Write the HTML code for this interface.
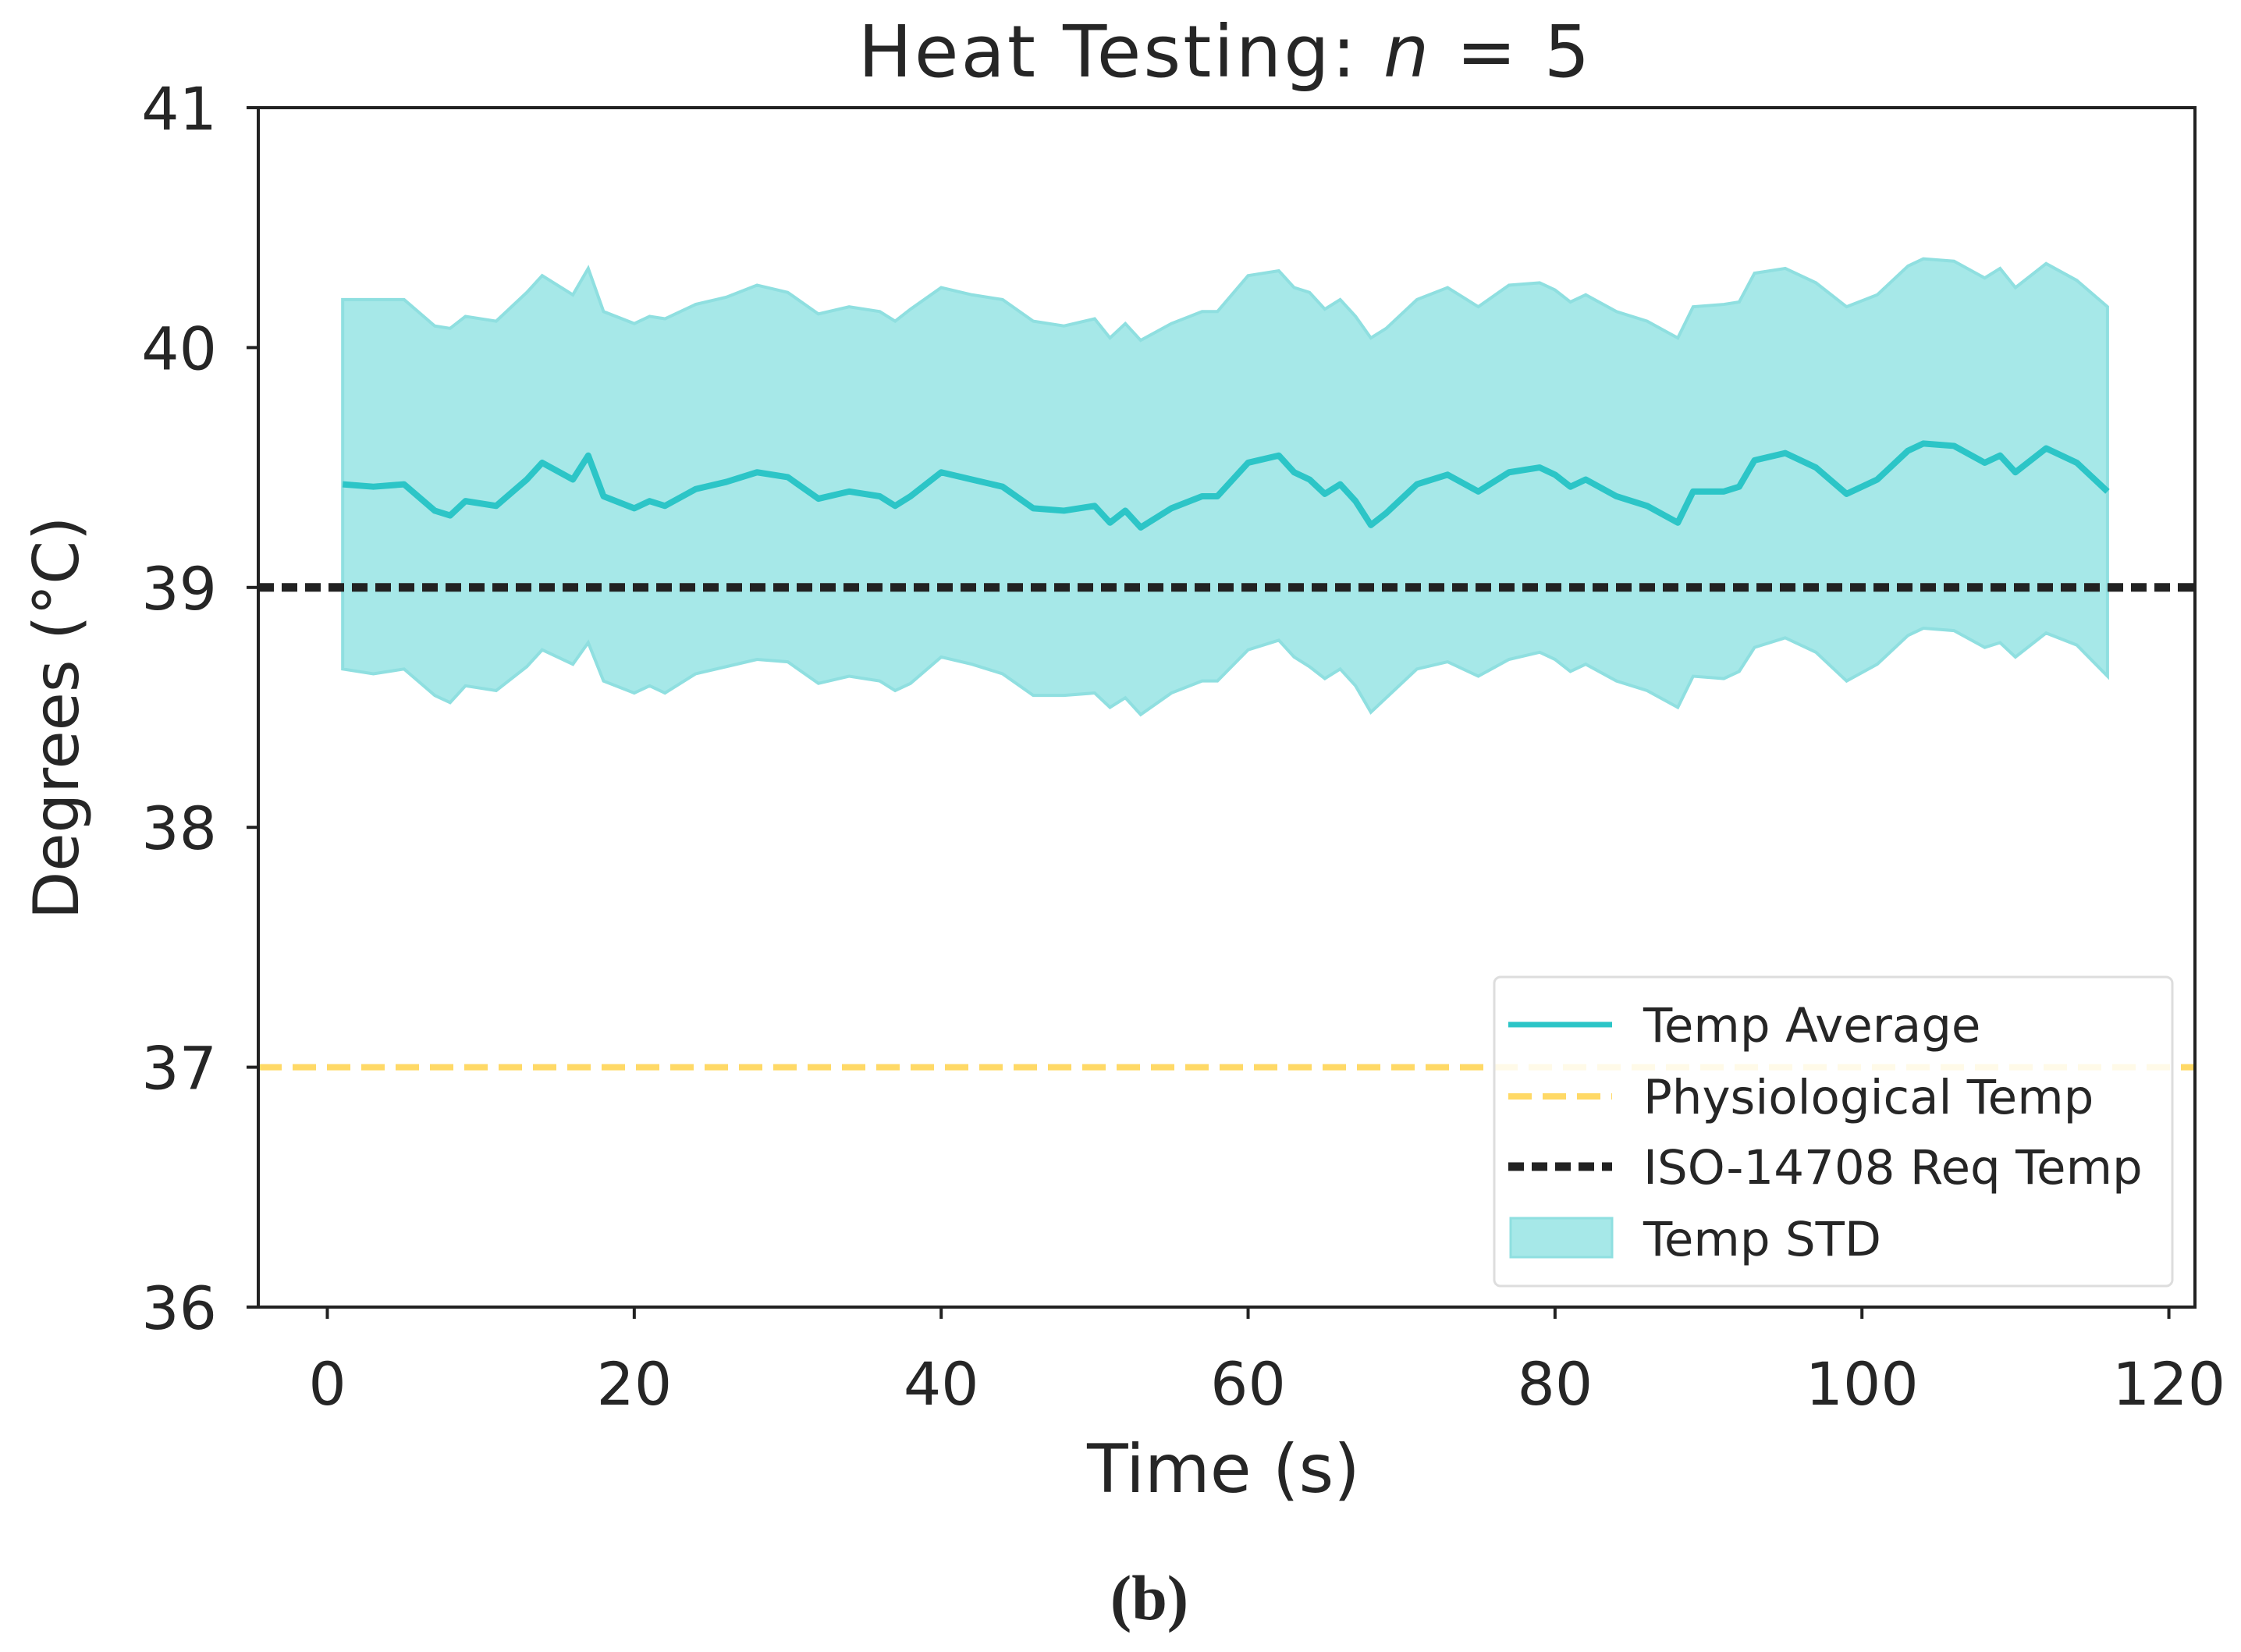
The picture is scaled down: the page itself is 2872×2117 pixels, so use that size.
<!DOCTYPE html>
<html><head><meta charset="utf-8"><style>
html,body{margin:0;padding:0;background:#fff;}
svg text{font-family:"DejaVu Sans","Liberation Sans",sans-serif;fill:#262626;}
</style></head><body>
<svg id="chart" width="2872" height="2112" viewBox="0 0 2872 2112" xmlns="http://www.w3.org/2000/svg">
<text x="1570" y="98" font-size="92" text-anchor="middle" letter-spacing="3">Heat Testing:  <tspan font-style="italic">n</tspan> = 5</text>
<g id="plot"></g>
<text x="1568" y="1912" font-size="86" text-anchor="middle">Time (s)</text>
<text transform="translate(100,920) rotate(-90)" font-size="80" text-anchor="middle">Degrees (°C)</text>
<text x="1473" y="2075" font-size="82" font-weight="bold" text-anchor="middle" style="font-family:'Liberation Serif',serif">(b)</text>
</svg>
<script>
const times=[1,3,5,7,8,9,11,13,14,16,17,18,20,21,22,24,26,28,30,32,34,36,37,38,40,42,44,46,48,50,51,52,53,55,57,58,60,62,63,64,65,66,67,68,69,71,73,75,77,79,80,81,82,84,86,88,89,91,92,93,95,97,99,101,103,104,106,108,109,110,112,114,116];
const meanTemp=[39.43,39.42,39.43,39.32,39.30,39.36,39.34,39.45,39.52,39.45,39.55,39.38,39.33,39.36,39.34,39.41,39.44,39.48,39.46,39.37,39.40,39.38,39.34,39.38,39.48,39.45,39.42,39.33,39.32,39.34,39.27,39.32,39.25,39.33,39.38,39.38,39.52,39.55,39.48,39.45,39.39,39.43,39.36,39.26,39.31,39.43,39.47,39.40,39.48,39.50,39.47,39.42,39.45,39.38,39.34,39.27,39.40,39.40,39.42,39.53,39.56,39.50,39.39,39.45,39.57,39.60,39.59,39.52,39.55,39.48,39.58,39.52,39.40];
const stdTemp=[0.77,0.78,0.77,0.77,0.78,0.77,0.77,0.78,0.78,0.77,0.78,0.77,0.77,0.77,0.78,0.77,0.77,0.78,0.77,0.77,0.77,0.77,0.77,0.78,0.77,0.77,0.78,0.78,0.77,0.78,0.77,0.78,0.78,0.77,0.77,0.77,0.78,0.77,0.77,0.78,0.77,0.77,0.77,0.78,0.77,0.77,0.78,0.77,0.78,0.77,0.77,0.77,0.77,0.77,0.77,0.77,0.77,0.78,0.77,0.78,0.77,0.77,0.78,0.77,0.77,0.77,0.77,0.77,0.78,0.77,0.77,0.76,0.77];
const xTicks=[0,20,40,60,80,100,120];
const yTicks=[36,37,38,39,40,41];
const physioTemp=37;
const isoTemp=39;
const legendLabels=["Temp Average","Physiological Temp","ISO-14708 Req Temp","Temp STD"];

const L=331,R=2813,T=138,B=1675;
const X0=-4.5,X1=121.7,Y0=36,Y1=41;
function sx(t){return L+(t-X0)/(X1-X0)*(R-L);}
function sy(v){return B-(v-Y0)/(Y1-Y0)*(B-T);}
const NS="http://www.w3.org/2000/svg";
const g=document.getElementById('plot');
function mk(tag,attrs,parent){const e=document.createElementNS(NS,tag);for(const k in attrs)e.setAttribute(k,attrs[k]);(parent||g).appendChild(e);return e;}

let up=times.map((t,i)=>sx(t)+","+sy(meanTemp[i]+stdTemp[i]));
let lo=times.map((t,i)=>sx(t)+","+sy(meanTemp[i]-stdTemp[i])).reverse();
const band=mk('polygon',{points:up.concat(lo).join(' '),fill:'#a6e8e8',stroke:'#8fdfe0','stroke-width':4});


const iso=mk('line',{x1:L,x2:R,y1:sy(isoTemp),y2:sy(isoTemp),stroke:'#222',"stroke-width":11,"stroke-dasharray":"20 10"});


const phy=mk('line',{x1:L,x2:R,y1:sy(physioTemp),y2:sy(physioTemp),stroke:'#ffd966',"stroke-width":8,"stroke-dasharray":"30 14"});


const mean=mk('polyline',{points:times.map((t,i)=>sx(t)+","+sy(meanTemp[i])).join(' '),fill:'none',stroke:'#2cc5c7',"stroke-width":8,"stroke-linejoin":"round"});


const fr=mk('rect',{x:L,y:T,width:R-L,height:B-T,fill:'none',stroke:'#222','stroke-width':4});


xTicks.forEach(v=>{
  const tk=mk('line',{x1:sx(v),x2:sx(v),y1:B,y2:B+15,stroke:'#222','stroke-width':4});
  
  
  const tx=mk('text',{x:sx(v),y:1800,'font-size':76,'text-anchor':'middle'});
  tx.textContent=v;
  
  
});
yTicks.forEach(v=>{
  const tk=mk('line',{x1:L-15,x2:L,y1:sy(v),y2:sy(v),stroke:'#222','stroke-width':4});
  
  
  const tx=mk('text',{x:278,y:sy(v)+28,'font-size':76,'text-anchor':'end'});
  tx.textContent=v;
  
  
});
const lg=mk('g',{});


mk('rect',{x:1915,y:1252,width:869,height:396,rx:8,fill:'#fff','fill-opacity':0.85,stroke:'#ddd','stroke-width':3},lg);
const ly=[1313,1405,1495,1587];
mk('line',{x1:1933,x2:2066,y1:ly[0],y2:ly[0],stroke:'#2cc5c7','stroke-width':7},lg);
mk('line',{x1:1933,x2:2066,y1:ly[1],y2:ly[1],stroke:'#ffd966','stroke-width':8,'stroke-dasharray':'30 14'},lg);
mk('line',{x1:1933,x2:2066,y1:ly[2],y2:ly[2],stroke:'#222','stroke-width':11,'stroke-dasharray':'20 10'},lg);
mk('rect',{x:1936,y:ly[3]-26,width:130,height:50,fill:'#a6e8e8',stroke:'#8fdfe0','stroke-width':3},lg);
legendLabels.forEach((s,i)=>{
  const tx=mk('text',{x:2106,y:ly[i]+22,'font-size':61},lg);
  tx.textContent=s;
  
  
});
</script>
</body></html>
